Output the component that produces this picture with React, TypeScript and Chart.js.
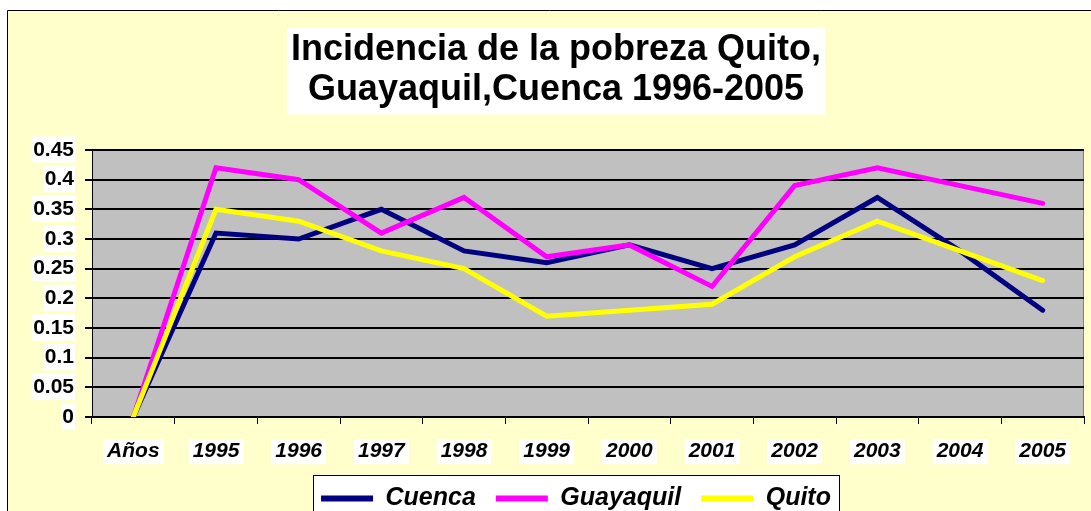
import React, { useEffect, useRef } from 'react';
import { Chart, registerables } from 'chart.js';

Chart.register(...registerables);

// ---- data ----
const categories = ['Años', '1995', '1996', '1997', '1998', '1999', '2000', '2001', '2002', '2003', '2004', '2005'];
const cuenca = [0, 0.31, 0.30, 0.35, 0.28, 0.26, 0.29, 0.25, 0.29, 0.37, 0.28, 0.18];
const guayaquil = [0, 0.42, 0.40, 0.31, 0.37, 0.27, 0.29, 0.22, 0.39, 0.42, 0.39, 0.36];
const quito = [0, 0.35, 0.33, 0.28, 0.25, 0.17, 0.18, 0.19, 0.27, 0.33, 0.28, 0.23];
const seriesNames = ['Cuenca', 'Guayaquil', 'Quito'];
const yTickValues = [0, 0.05, 0.1, 0.15, 0.2, 0.25, 0.3, 0.35, 0.4, 0.45];
const titleLines = ['Incidencia de la pobreza Quito,', 'Guayaquil,Cuenca 1996-2005'];

// ---- styles ----
const FAMILY = "'Liberation Sans', Arial, sans-serif";
const TITLE_SIZE = 36;
const TITLE_LH = 1.111;
const TITLE_PAD_TOP = 30.5;
const TITLE_PAD_BOTTOM = 39.5;
const TITLE_CX = 556;
const LEGEND_CX = 576;
const W = 1091;
const H = 511;

const decor = {
  id: 'decor',
  afterLayout(chart: any) {
    const tb = chart.titleBlock;
    if (tb) {
      const dx = TITLE_CX - (tb.left + tb.right) / 2;
      tb.left += dx;
      tb.right += dx;
    }
    const lg = chart.legend;
    if (lg) {
      const dl = LEGEND_CX - (lg.left + lg.right) / 2;
      lg.left += dl;
      lg.right += dl;
    }
  },
  beforeDraw(chart: any) {
    const { ctx, width, height, chartArea: ca } = chart;
    ctx.save();
    ctx.fillStyle = '#ffffff';
    ctx.fillRect(0, 0, width, height);
    ctx.fillStyle = '#FFFFCC';
    ctx.fillRect(7, 10, width - 7, height - 10);
    ctx.strokeStyle = '#000000';
    ctx.lineWidth = 1;
    ctx.beginPath();
    ctx.moveTo(7.5, height);
    ctx.lineTo(7.5, 10.5);
    ctx.lineTo(width, 10.5);
    ctx.stroke();

    // plot area
    ctx.fillStyle = '#C0C0C0';
    ctx.fillRect(ca.left, ca.top, ca.right - ca.left, ca.bottom - ca.top);
    ctx.strokeStyle = '#808080';
    ctx.beginPath();
    ctx.moveTo(ca.right - 0.5, ca.top);
    ctx.lineTo(ca.right - 0.5, ca.bottom);
    ctx.stroke();

    // title background
    const tb = chart.titleBlock;
    if (tb) {
      ctx.font = `bold ${TITLE_SIZE}px ${FAMILY}`;
      const w = Math.max(...titleLines.map((l) => ctx.measureText(l).width));
      const cx = (tb.left + tb.right) / 2;
      const lh = TITLE_SIZE * TITLE_LH;
      const y1 = tb.top + TITLE_PAD_TOP + lh / 2;
      ctx.fillStyle = '#ffffff';
      ctx.fillRect(cx - w / 2 - 4, y1 - 23, w + 8, lh * (titleLines.length - 1) + 47);
    }

    // legend background
    const lg = chart.legend;
    if (lg && lg.legendHitBoxes && lg.legendHitBoxes.length) {
      const hb = lg.legendHitBoxes;
      const first = hb[0];
      const last = hb[hb.length - 1];
      const lx = Math.round(first.left - 8);
      const rx = Math.round(last.left + last.width + 8);
      const ly = Math.round(first.top - 11);
      ctx.fillStyle = '#ffffff';
      ctx.fillRect(lx, ly, rx - lx, height - ly + 5);
      ctx.strokeStyle = '#000000';
      ctx.lineWidth = 1;
      ctx.strokeRect(lx + 0.5, ly + 0.5, rx - lx, height);
    }
    ctx.restore();
  },
};

export default function App() {
  const ref = useRef<HTMLCanvasElement>(null);

  useEffect(() => {
    if (!ref.current) return;
    const colors = ['#000080', '#FF00FF', '#FFFF00'];
    const values = [cuenca, guayaquil, quito];
    const orders = [3, 2, 1];
    const baseGen = (Chart.defaults as any).plugins.legend.labels.generateLabels;
    const chart = new Chart(ref.current, {
      type: 'line',
      data: {
        labels: categories,
        datasets: seriesNames.map((name, i) => ({
          label: name,
          data: values[i],
          borderColor: colors[i],
          backgroundColor: colors[i],
          borderWidth: 5,
          pointRadius: 0,
          pointHoverRadius: 0,
          borderCapStyle: 'round',
          borderJoinStyle: 'miter',
          tension: 0,
          fill: false,
          clip: 0,
          order: orders[i],
        })),
      },
      options: {
        responsive: false,
        animation: false,
        events: [],
        layout: { padding: { left: 0, right: 7, top: 0, bottom: 0 } },
        plugins: {
          tooltip: { enabled: false },
          title: {
            display: true,
            text: titleLines,
            color: '#000000',
            font: { family: FAMILY, size: TITLE_SIZE, weight: 'bold', lineHeight: TITLE_LH },
            padding: { top: TITLE_PAD_TOP, bottom: TITLE_PAD_BOTTOM },
          },
          legend: {
            display: true,
            position: 'bottom',
            maxHeight: 45,
            labels: {
              color: '#000000',
              font: { family: FAMILY, size: 25, weight: 'bold', style: 'italic' },
              padding: 20,
              usePointStyle: true,
              pointStyle: 'line',
              pointStyleWidth: 52,
              generateLabels: (c: any) =>
                baseGen(c).map((item: any) => ({ ...item, lineWidth: 6, pointStyle: 'line' })),
              sort: (a: any, b: any) => a.datasetIndex - b.datasetIndex,
            },
          },
        },
        scales: {
          x: {
            type: 'category',
            offset: true,
            afterFit: (scale: any) => {
              scale.height = 49;
            },
            grid: {
              display: true,
              offset: true,
              drawOnChartArea: false,
              drawTicks: true,
              tickLength: 7,
              color: '#000000',
              lineWidth: 1,
            },
            border: { display: true, color: '#000000', width: 2 },
            ticks: {
              color: '#000000',
              font: { family: FAMILY, size: 21, weight: 'bold', style: 'italic' },
              padding: 15,
              maxRotation: 0,
              autoSkip: false,
              showLabelBackdrop: true,
              backdropColor: '#ffffff',
              backdropPadding: { left: 4, right: 4, top: 0, bottom: 0 },
            },
          },
          y: {
            min: 0,
            max: 0.45,
            afterFit: (scale: any) => {
              scale.width = 92;
            },
            afterBuildTicks: (scale: any) => {
              scale.ticks = yTickValues.map((v) => ({ value: v }));
            },
            grid: {
              display: true,
              drawOnChartArea: true,
              drawTicks: true,
              tickLength: 7,
              color: '#000000',
              lineWidth: 2,
            },
            border: { display: true, color: '#000000', width: 1 },
            ticks: {
              color: '#000000',
              font: { family: FAMILY, size: 21, weight: 'bold' },
              padding: 11,
              showLabelBackdrop: true,
              backdropColor: '#ffffff',
              backdropPadding: { left: 1, right: 1, top: 1, bottom: 0 },
              callback: (v: any) => String(parseFloat(Number(v).toFixed(2))),
            },
          },
        },
      },
      plugins: [decor],
    } as any);
    return () => chart.destroy();
  }, []);

  return (
    <div style={{ position: 'absolute', left: 0, top: 0, width: W, height: H }}>
      <canvas ref={ref} width={W} height={H} style={{ display: 'block' }} />
    </div>
  );
}
